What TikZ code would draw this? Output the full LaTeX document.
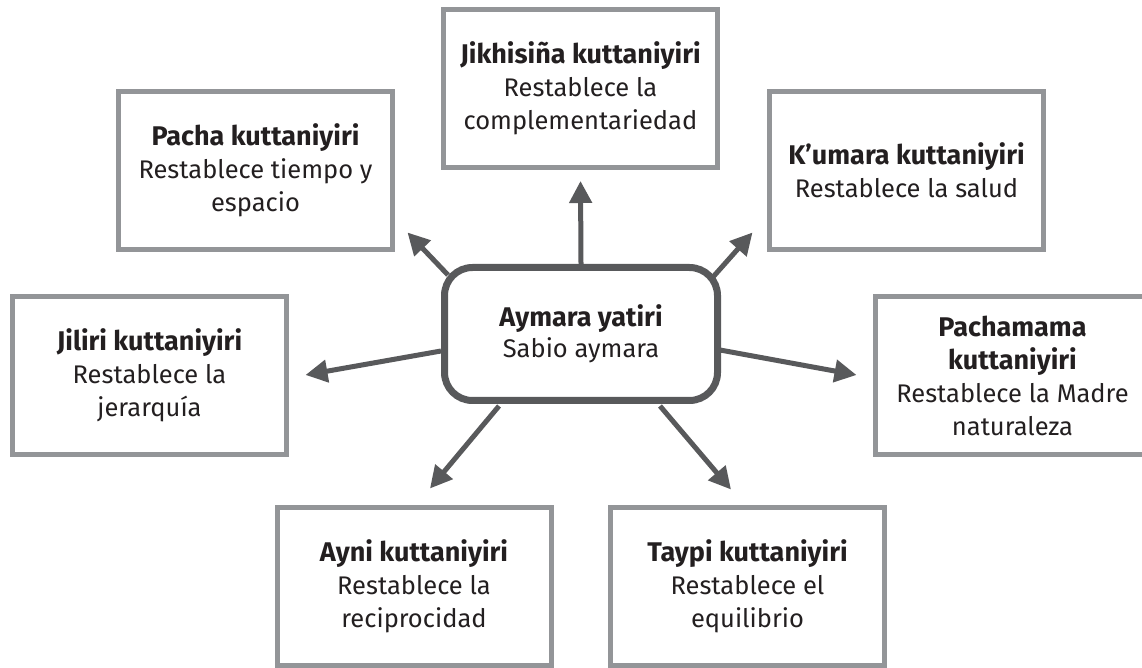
\documentclass[tikz,border=0pt]{standalone}
\usepackage{fontspec}
\setmainfont{Fira Sans}
\usetikzlibrary{arrows.meta,calc}
\definecolor{boxgray}{HTML}{939598}
\definecolor{darkg}{HTML}{58595B}
\definecolor{txt}{HTML}{231F20}
\newcommand\hd[1]{{\fontsize{27}{33}\selectfont\bfseries #1}}
\begin{document}
\begin{tikzpicture}[x=1pt,y=1pt,
  box/.style={draw=boxgray,line width=5pt,minimum width=274pt,minimum height=158pt,
    inner sep=0pt,align=center,text=txt,font=\fontsize{25.5}{33}\selectfont},
  hub/.style={draw=darkg,line width=7pt,rounded corners=28pt,minimum width=273pt,
    minimum height=133pt,inner sep=0pt,align=center,text=txt,font=\fontsize{25.5}{31}\selectfont},
  arr/.style={draw=darkg,line width=5pt,-{Triangle[length=22pt,width=22pt]}}]
\fill[white] (0,0) rectangle (1142,667);
\useasboundingbox (0,0) rectangle (1142,667);

\node[hub] (c) at (581,333) {\hd{Aymara yatiri}\\Sabio aymara};

\node[box] (jik) at (580.5,578.5) {\hd{Jikhisiña kuttaniyiri}\\Restablece la\\complementariedad};
\node[box] (pacha) at (255.5,496.5) {\hd{Pacha kuttaniyiri}\\Restablece tiempo y\\espacio};
\node[box] (kum) at (906.5,496.5) {\hd{K’umara kuttaniyiri}\\Restablece la salud};
\node[box] (jil) at (149.5,291.5) {\hd{Jiliri kuttaniyiri}\\Restablece la\\jerarquía};
\node[box] (pam) at (1012.5,291.5) {\hd{Pachamama}\\\hd{kuttaniyiri}\\Restablece la Madre\\naturaleza};
\node[box] (ayni) at (414,80.5) {\hd{Ayni kuttaniyiri}\\Restablece la\\reciprocidad};
\node[box] (taypi) at (747.5,80.5) {\hd{Taypi kuttaniyiri}\\Restablece el\\equilibrio};

\draw[arr] (c.north) -- ($(jik.south)+(0,-11)$);
\draw[arr] ($(c.center)+(-133,59)$) -- ($(pacha.south east)+(12.5,19.5)$);
\draw[arr] ($(c.center)+(132,57)$) -- ($(kum.south west)+(-14.5,19.5)$);
\draw[arr] ($(c.center)+(-140,-17)$) -- ($(jil.east)+(16.5,0.5)$);
\draw[arr] ($(c.center)+(139,-16)$) -- ($(pam.west)+(-16.5,0.5)$);
\draw[arr] ($(c.center)+(-82,-72)$) -- ($(ayni.north)+(16,16.5)$);
\draw[arr] ($(c.center)+(79,-72)$) -- ($(taypi.north)+(-16.5,15.5)$);
\end{tikzpicture}
\end{document}
